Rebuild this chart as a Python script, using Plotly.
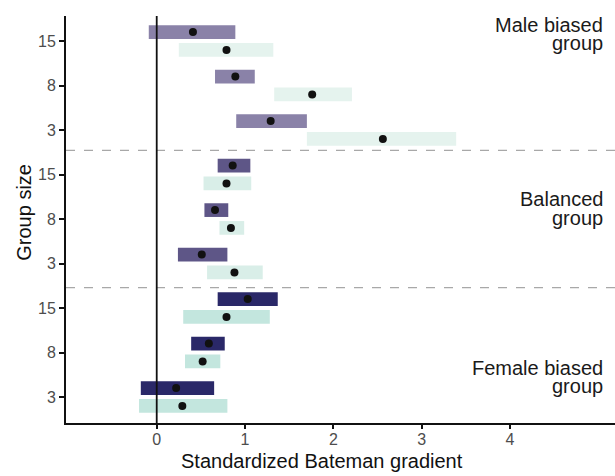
import plotly.graph_objects as go

# ---- data ----
groups = ["Male biased", "Balanced", "Female biased"]
group_sizes = ["15", "8", "3"]
# dark bars (upper row of each pair)
dark_low = [-0.09, 0.66, 0.90, 0.69, 0.54, 0.24, 0.69, 0.39, -0.18]
dark_high = [0.89, 1.11, 1.70, 1.06, 0.81, 0.80, 1.37, 0.77, 0.65]
dark_mean = [0.41, 0.89, 1.29, 0.86, 0.66, 0.51, 1.03, 0.59, 0.22]
# light bars (lower row of each pair)
light_low = [0.25, 1.33, 1.70, 0.53, 0.71, 0.57, 0.30, 0.32, -0.20]
light_high = [1.32, 2.21, 3.39, 1.07, 0.99, 1.20, 1.28, 0.72, 0.80]
light_mean = [0.79, 1.76, 2.56, 0.79, 0.84, 0.88, 0.79, 0.52, 0.29]

dark_colors = ["#8A82A8"] * 3 + ["#5E5687"] * 3 + ["#2A2868"] * 3
light_colors = ["#E5F3EE"] * 3 + ["#D9EEE8"] * 3 + ["#C3E6DE"] * 3

tick_pos = [9, 8, 7, 6, 5, 4, 3, 2, 1]
tick_text = group_sizes * 3
x_ticks = [0, 1, 2, 3, 4]
separators = [6.544, 3.456]

off = 0.2
bar_w = 0.308
dark_y = [p + off for p in tick_pos]
light_y = [p - off for p in tick_pos]

FONT = "Liberation Sans, Arial, sans-serif"

fig = go.Figure()
fig.add_trace(go.Bar(
    y=dark_y, x=[h - l for l, h in zip(dark_low, dark_high)], base=dark_low,
    orientation="h", width=bar_w, marker=dict(color=dark_colors, line=dict(width=0)),
    showlegend=False, hoverinfo="skip"))
fig.add_trace(go.Bar(
    y=light_y, x=[h - l for l, h in zip(light_low, light_high)], base=light_low,
    orientation="h", width=bar_w, marker=dict(color=light_colors, line=dict(width=0)),
    showlegend=False, hoverinfo="skip"))
fig.add_trace(go.Scatter(
    x=dark_mean + light_mean, y=dark_y + light_y, mode="markers",
    marker=dict(color="#111111", size=8), showlegend=False, hoverinfo="skip"))

for s in separators:
    fig.add_shape(type="line", xref="paper", x0=0, x1=1, yref="y", y0=s, y1=s,
                  line=dict(color="#A8A8A8", width=1.3, dash="9px,9px"), layer="below")
fig.add_shape(type="line", xref="x", x0=0, x1=0, yref="paper", y0=0, y1=1,
              line=dict(color="#111111", width=1.8), layer="above")

labels = [("Male biased", 9.37), ("group", 8.954),
          ("Balanced", 5.44), ("group", 5.024),
          ("Female biased", 1.66), ("group", 1.244)]
for t, yy in labels:
    fig.add_annotation(text=t, x=5.065, y=yy, xref="x", yref="y", xanchor="right",
                       yanchor="middle", showarrow=False, borderpad=0,
                       font=dict(family=FONT, size=20, color="#1A1A1A"))

fig.add_annotation(text="Standardized Bateman gradient", xref="paper", yref="paper",
                   x=0.466, y=-0.093, xanchor="center", yanchor="middle", showarrow=False,
                   font=dict(family=FONT, size=20, color="#111111"))
fig.add_annotation(text="Group size", xref="paper", yref="paper",
                   x=-0.078, y=0.517, xanchor="center", yanchor="middle", textangle=-90,
                   showarrow=False, font=dict(family=FONT, size=20, color="#111111"))

fig.update_layout(
    width=615, height=476, margin=dict(l=66, r=0, t=16, b=53),
    plot_bgcolor="white", paper_bgcolor="white", barmode="overlay",
    font=dict(family=FONT),
    xaxis=dict(range=[-1.027, 5.188], tickvals=x_ticks, ticktext=[str(v) for v in x_ticks],
               showgrid=False, zeroline=False, showline=True, linecolor="#111111",
               linewidth=1.8, ticks="outside", ticklen=4, tickcolor="#111111", tickwidth=1.5,
               ticklabelstandoff=-3,
               tickfont=dict(size=16, color="#4D4D4D", family=FONT)),
    yaxis=dict(range=[0.416, 9.562], tickvals=tick_pos, ticktext=tick_text,
               showgrid=False, zeroline=False, showline=True, linecolor="#111111",
               linewidth=1.8, ticks="outside", ticklen=5, tickcolor="#111111", tickwidth=1.5,
               tickfont=dict(size=16, color="#4D4D4D", family=FONT)),
)

fig.write_html("out.html")
